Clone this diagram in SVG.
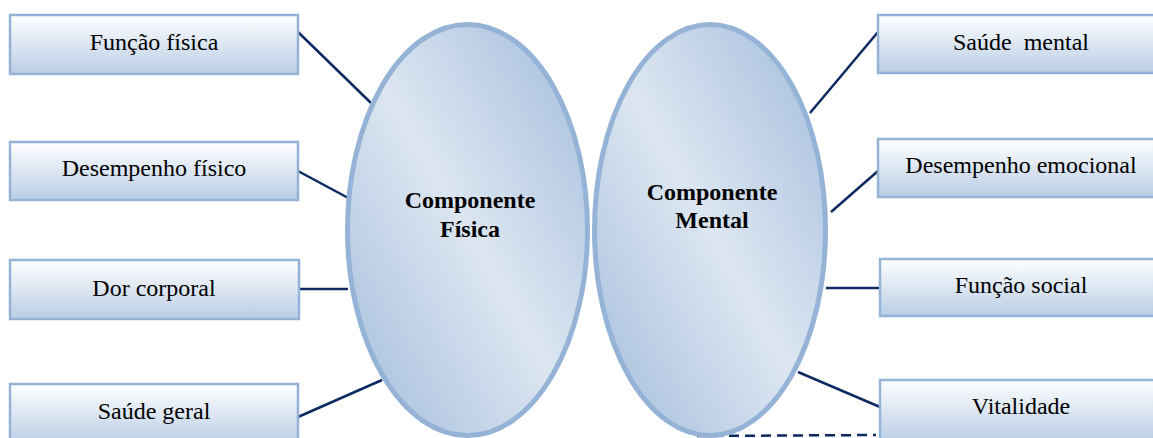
<svg xmlns="http://www.w3.org/2000/svg" width="1153" height="438" viewBox="0 0 1153 438">
<defs>
<linearGradient id="boxg" x1="0" y1="0" x2="0" y2="1">
<stop offset="0" stop-color="#FFFFFF"/>
<stop offset="1" stop-color="#B9CDE5"/>
</linearGradient>
<linearGradient id="ellg" x1="1" y1="0" x2="0" y2="1">
<stop offset="0" stop-color="#A2BBDC"/>
<stop offset="0.5" stop-color="#DCE6F1"/>
<stop offset="1" stop-color="#A2BBDC"/>
</linearGradient>
<style>
.box{fill:url(#boxg);stroke:#95B3D7;stroke-width:2.5}
.ell{fill:url(#ellg);stroke:#95B3D7;stroke-width:5}
.lbl{font-size:24px;fill:#000;text-anchor:middle}
.big{font-size:24px;font-weight:bold;fill:#000;text-anchor:middle}
.con{stroke:#0D2A62;stroke-width:2.5;fill:none}
</style>
</defs>
<rect width="1153" height="438" fill="#FFFFFF"/>
<g id="connectors">
<line class="con" x1="298" y1="32" x2="371" y2="103"/>
<line class="con" x1="298" y1="171" x2="352" y2="200"/>
<line class="con" x1="299" y1="289" x2="348" y2="289"/>
<line class="con" x1="298" y1="417" x2="382" y2="380"/>
<line class="con" x1="810" y1="113" x2="878" y2="32"/>
<line class="con" x1="831" y1="212" x2="878" y2="171"/>
<line class="con" x1="826" y1="288" x2="880" y2="288"/>
<line class="con" x1="798" y1="372" x2="880" y2="407"/>
<line class="con" x1="697" y1="436" x2="876" y2="435" stroke-width="3.5" stroke-dasharray="10 6"/>
</g>
<g id="comp-fisica" font-family="Liberation Serif, Times New Roman, DejaVu Serif, serif">
<ellipse class="ell" cx="467.5" cy="230" rx="120" ry="205.5"/>
<text class="big" x="470" y="208">Componente</text>
<text class="big" x="470" y="237">Física</text>
</g>
<g id="comp-mental" font-family="Liberation Serif, Times New Roman, DejaVu Serif, serif">
<ellipse class="ell" cx="710" cy="230" rx="115.5" ry="205.5"/>
<text class="big" x="712" y="200">Componente</text>
<text class="big" x="712" y="228">Mental</text>
</g>
<g id="funcao-fisica" font-family="Liberation Serif, Times New Roman, DejaVu Serif, serif">
<rect class="box" x="10" y="15" width="288" height="59"/>
<text class="lbl" x="154" y="50">Função física</text>
</g>
<g id="desempenho-fisico" font-family="Liberation Serif, Times New Roman, DejaVu Serif, serif">
<rect class="box" x="10" y="142" width="288" height="58"/>
<text class="lbl" x="154" y="176">Desempenho físico</text>
</g>
<g id="dor-corporal" font-family="Liberation Serif, Times New Roman, DejaVu Serif, serif">
<rect class="box" x="10" y="260" width="289" height="59"/>
<text class="lbl" x="154" y="296">Dor corporal</text>
</g>
<g id="saude-geral" font-family="Liberation Serif, Times New Roman, DejaVu Serif, serif">
<rect class="box" x="10" y="384" width="288" height="60"/>
<text class="lbl" x="154" y="419">Saúde geral</text>
</g>
<g id="saude-mental" font-family="Liberation Serif, Times New Roman, DejaVu Serif, serif">
<rect class="box" x="878" y="15" width="290" height="58"/>
<text class="lbl" x="1021" y="50" word-spacing="6">Saúde mental</text>
</g>
<g id="desempenho-emocional" font-family="Liberation Serif, Times New Roman, DejaVu Serif, serif">
<rect class="box" x="878" y="139" width="290" height="58"/>
<text class="lbl" x="1021" y="173">Desempenho emocional</text>
</g>
<g id="funcao-social" font-family="Liberation Serif, Times New Roman, DejaVu Serif, serif">
<rect class="box" x="880" y="259" width="290" height="57"/>
<text class="lbl" x="1021" y="293">Função social</text>
</g>
<g id="vitalidade" font-family="Liberation Serif, Times New Roman, DejaVu Serif, serif">
<rect class="box" x="880" y="380" width="290" height="62"/>
<text class="lbl" x="1021" y="414">Vitalidade</text>
</g>
</svg>
